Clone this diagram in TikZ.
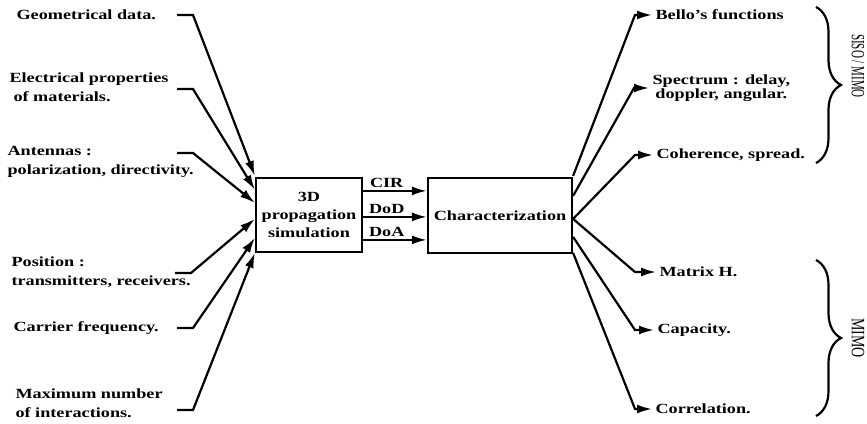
\documentclass[tikz,border=0pt]{standalone}
\usepackage{fontspec}
\setmainfont{Liberation Serif}[FakeStretch=1.3]
\newfontfamily\rotfont{Liberation Serif}
\usetikzlibrary{positioning,arrows.meta,decorations.pathreplacing}

\tikzset{
  box/.style={draw, line width=2.2pt, minimum width=106pt, minimum height=74pt, align=center, inner sep=0pt,
    font=\fontsize{14}{18}\selectfont\bfseries},
  arr/.style={line width=2.2pt, -{Latex[length=15pt,width=9pt]}},
  lbl/.style={font=\fontsize{14}{18.5}\selectfont\bfseries, align=left, anchor=west},
  brc/.style={line width=2.2pt, decorate, decoration={brace, amplitude=25pt}}
}

\begin{document}
\begin{tikzpicture}[x=1pt,y=-1pt]
        \useasboundingbox (0,0) rectangle (867,423);
        % the two blocks
        \node[box] (sim) at (309,215) {3D\\propagation\\simulation};
        \node[box, minimum width=144pt, minimum height=75pt] (char) at (500,215.5) {Characterization};
        % inputs
        \node[lbl] (geo) at (13,15) {Geometrical data.};
        \node[lbl] (elec) at (6,87) {Electrical properties\\\hspace*{4pt}of materials.};
        \node[lbl] (ant) at (4,162) {Antennas :\\polarization, directivity.};
        \node[lbl] (pos) at (8,272) {Position :\\transmitters, receivers.};
        \node[lbl] (carr) at (10,328) {Carrier frequency.};
        \node[lbl] (maxi) at (12,403) {Maximum number\\of interactions.};
        \coordinate (geo0) at (177,15);
        \coordinate (elec0) at (177,89);
        \coordinate (ant0) at (177,153);
        \coordinate (pos0) at (175,273);
        \coordinate (carr0) at (177,328);
        \coordinate (maxi0) at (177,410);
        \draw[arr] (geo0) -- ++(16,0) -- ([yshift=1pt]sim.north west);
        \draw[arr] (elec0) -- ++(16,0) -- ([yshift=-13pt]sim.north west);
        \draw[arr] (ant0) -- ++(16,0) -- ([yshift=-26pt]sim.north west);
        \draw[arr] (pos0) -- ++(16,0) -- ([yshift=-42pt]sim.north west);
        \draw[arr] (carr0) -- ++(16,0) -- ([yshift=-61pt]sim.north west);
        \draw[arr] (maxi0) -- ++(16,0) -- ([yshift=-76pt]sim.north west);
        % between the blocks
        \draw[arr] ([yshift=-14pt]sim.north east) -- node[pos=0.37, above=-1pt, font=\fontsize{14}{16}\selectfont\bfseries] {CIR} ([yshift=-14pt]char.north west);
        \draw[arr] ([yshift=-40pt]sim.north east) -- node[pos=0.37, above=-1pt, font=\fontsize{14}{16}\selectfont\bfseries] {DoD} ([yshift=-40pt]char.north west);
        \draw[arr] ([yshift=-63pt]sim.north east) -- node[pos=0.37, above=-1pt, font=\fontsize{14}{16}\selectfont\bfseries] {DoA} ([yshift=-63pt]char.north west);
        % outputs
        \node[lbl] (bello) at (652,15) {Bello's functions};
        \node[lbl, align=center, font=\fontsize{14}{13.5}\selectfont\bfseries] (spec) at (649,88) {Spectrum : delay,\\doppler, angular.};
        \node[lbl] (coh) at (653,155) {Coherence, spread.};
        \node[lbl] (mat) at (656,272) {Matrix H.};
        \node[lbl] (cap) at (654,330) {Capacity.};
        \node[lbl] (corr) at (652,409) {Correlation.};
        \draw[arr] ([yshift=1pt]char.north east) -- ([xshift=-17pt]bello.west) -- (bello.west);
        \draw[arr] ([yshift=-19pt]char.north east) -- ([xshift=-15pt]spec.west) -- (spec.west);
        \draw[arr] ([yshift=-42pt]char.north east) -- ([xshift=-18pt]coh.west) -- (coh.west);
        \draw[arr] ([yshift=-42pt]char.north east) -- ([xshift=-21pt]mat.west) -- (mat.west);
        \draw[arr] ([yshift=-60pt]char.north east) -- ([xshift=-19pt]cap.west) -- (cap.west);
        \draw[arr] ([yshift=-76pt]char.north east) -- ([xshift=-17pt]corr.west) -- (corr.west);
        % braces
        \coordinate (b1) at (816,7);
        \coordinate (b2) at (816,163);
        \coordinate (b3) at (816,260);
        \coordinate (b4) at (816,416);
        \draw[brc] (b1) -- (b2);
        \draw[brc] (b3) -- (b4);
        \node[inner sep=0pt] (siso) at (858,66) {\rotatebox{-90}{\scalebox{1}[1.7]{\rotfont\fontsize{11}{13}\selectfont SISO / MIMO}}};
        \node[inner sep=0pt] (mimo) at (858,338) {\rotatebox{-90}{\scalebox{1}[1.35]{\rotfont\fontsize{14}{16}\selectfont MIMO}}};
    \end{tikzpicture}
\end{document}
